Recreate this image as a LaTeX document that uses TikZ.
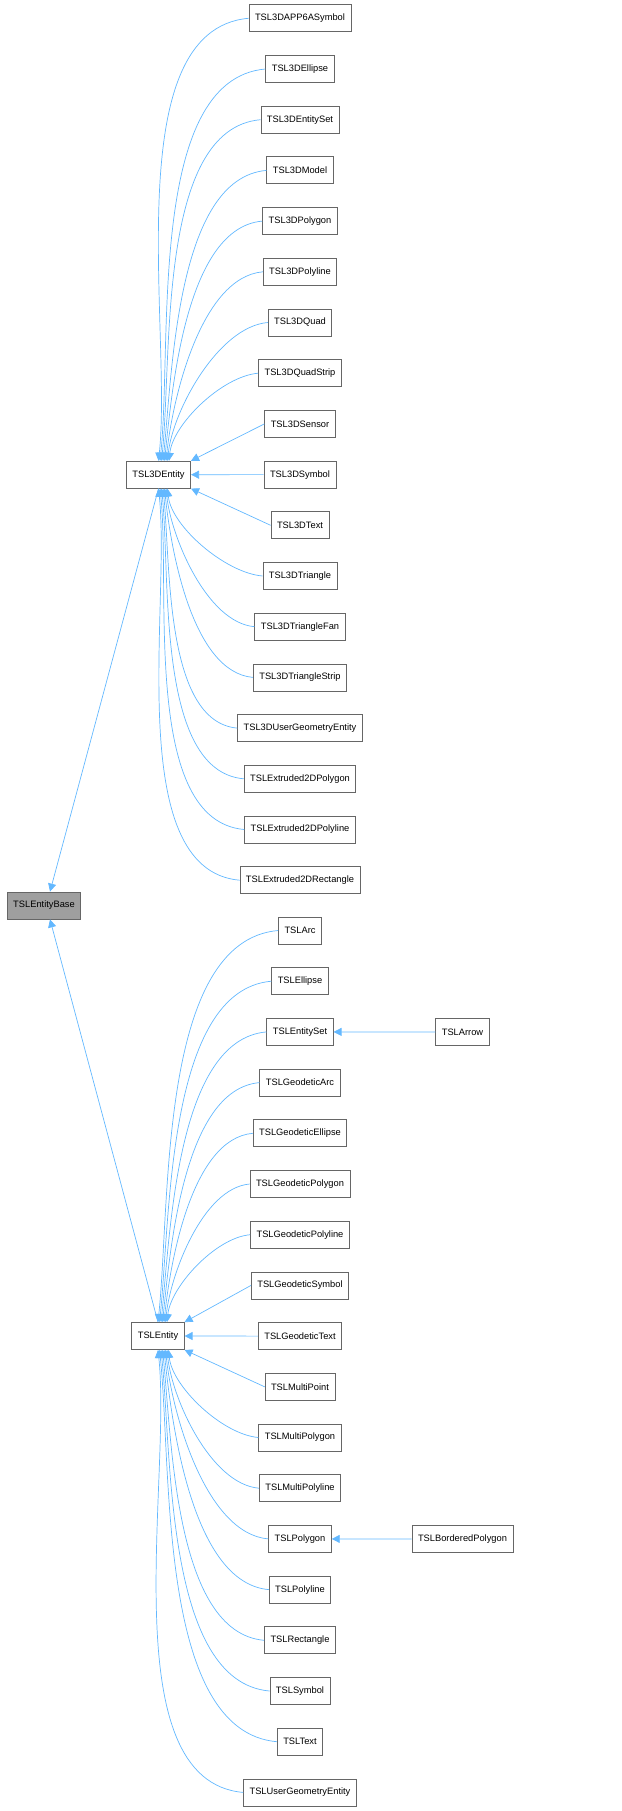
\documentclass[tikz,border=0pt]{standalone}
\usepackage{fontspec}
\setmainfont{Liberation Sans}
\usetikzlibrary{arrows.meta}
\definecolor{edgeblue}{HTML}{63B8FF}
\definecolor{boxgray}{HTML}{666666}
\tikzset{
  cls/.style={draw=boxgray,line width=0.8pt,fill=white,minimum height=27pt,
    inner xsep=6pt,font=\fontsize{9.3}{11}\selectfont},
  edge/.style={draw=edgeblue,line width=0.7pt,{Triangle[length=8pt,width=8pt]}-}
}
\begin{document}
\begin{tikzpicture}[x=1pt,y=-1pt]
\useasboundingbox (0,0) rectangle (621,1811);

\node[cls,fill=gray!75] (base) at (44,905.5) {TSLEntityBase};
\node[cls] (e3d) at (158.5,474.7) {TSL3DEntity};
\node[cls] (ent) at (158,1336) {TSLEntity};

% 3D children
\foreach \name [count=\i from 0] in {TSL3DAPP6ASymbol,TSL3DEllipse,TSL3DEntitySet,
  TSL3DModel,TSL3DPolygon,TSL3DPolyline,TSL3DQuad,TSL3DQuadStrip,TSL3DSensor,
  TSL3DSymbol,TSL3DText,TSL3DTriangle,TSL3DTriangleFan,TSL3DTriangleStrip,
  TSL3DUserGeometryEntity,TSLExtruded2DPolygon,TSLExtruded2DPolyline,
  TSLExtruded2DRectangle}{
  \node[cls] (a\i) at (300,18.3+\i*50.7) {\name};
  \ifnum\i<8
    \draw[edge] ([xshift=\i*1.5pt]e3d.north) to[out=84,in=185,looseness=0.75] (a\i.west);
  \else\ifnum\i=8
    \draw[edge] (e3d.north east) -- (a\i.west);
  \else\ifnum\i=9
    \draw[edge] (e3d.east) -- (a\i.west);
  \else\ifnum\i=10
    \draw[edge] (e3d.south east) -- (a\i.west);
  \else
    \draw[edge] ([xshift={(17-\i)*1.5pt}]e3d.south) to[out=-84,in=175,looseness=0.75] (a\i.west);
  \fi\fi\fi\fi
}

% 2D children
\foreach \name [count=\i from 0] in {TSLArc,TSLEllipse,TSLEntitySet,TSLGeodeticArc,
  TSLGeodeticEllipse,TSLGeodeticPolygon,TSLGeodeticPolyline,TSLGeodeticSymbol,
  TSLGeodeticText,TSLMultiPoint,TSLMultiPolygon,TSLMultiPolyline,TSLPolygon,
  TSLPolyline,TSLRectangle,TSLSymbol,TSLText,TSLUserGeometryEntity}{
  \node[cls] (b\i) at (300,930.5+\i*50.7) {\name};
  \ifnum\i<7
    \draw[edge] ([xshift=\i*1.5pt]ent.north) to[out=84,in=185,looseness=0.75] (b\i.west);
  \else\ifnum\i=7
    \draw[edge] (ent.north east) -- (b\i.west);
  \else\ifnum\i=8
    \draw[edge] (ent.east) -- (b\i.west);
  \else\ifnum\i=9
    \draw[edge] (ent.south east) -- (b\i.west);
  \else
    \draw[edge] ([xshift={(17-\i)*1.5pt}]ent.south) to[out=-84,in=175,looseness=0.75] (b\i.west);
  \fi\fi\fi\fi
}

\node[cls] (arrow) at (462.5,1032) {TSLArrow};
\node[cls] (bpoly) at (462.5,1539) {TSLBorderedPolygon};
\draw[edge] (b2.east) -- (arrow.west);
\draw[edge] (b12.east) -- (bpoly.west);

\draw[edge] ([xshift=6pt]base.north) -- (e3d.south);
\draw[edge] ([xshift=6pt]base.south) -- (ent.north);
\end{tikzpicture}
\end{document}
